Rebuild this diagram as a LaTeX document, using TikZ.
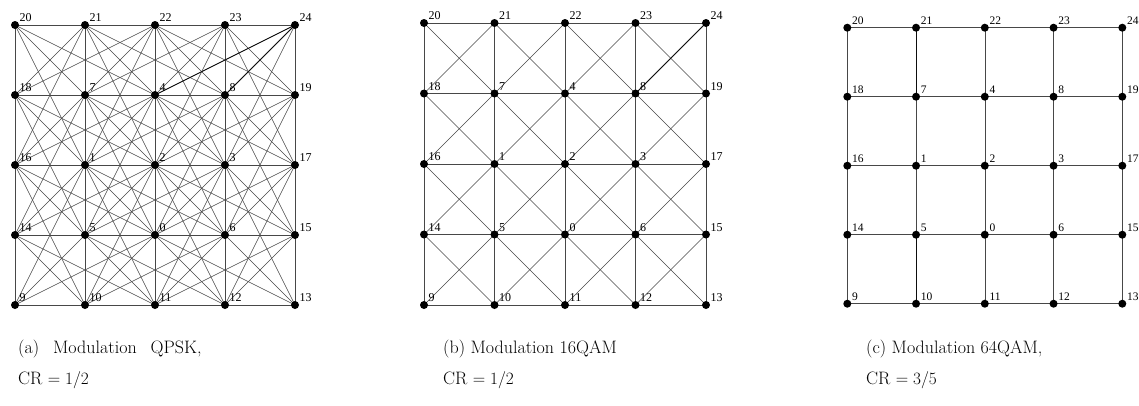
\documentclass[tikz,border=0pt]{standalone}
\usepackage{fontspec}
\newfontfamily\lblfont{Liberation Serif}
\usetikzlibrary{backgrounds}
\tikzset{
  dot/.style={circle,fill=black,inner sep=0pt,minimum size=8pt},
  edge/.style={draw=black!72,line width=0.6pt},
  darkedge/.style={draw=black!95,line width=0.75pt},
  lbl/.style={font=\lblfont\fontsize{12}{12}\selectfont,anchor=base west,inner sep=0pt},
  lblc/.style={font=\lblfont\fontsize{11.5}{12}\selectfont,anchor=base west,inner sep=0pt},
  captext/.style={font=\fontsize{18}{20}\selectfont,anchor=base west,inner sep=0pt}
}
\newcommand\mkgrid[6]{%
  \foreach \lab [count=\k from 0] in {20,21,22,23,24,18,7,4,8,19,16,1,2,3,17,14,5,0,6,15,9,10,11,12,13} {
    \pgfmathtruncatemacro\ci{mod(\k,5)}
    \pgfmathtruncatemacro\rj{div(\k,5)}
    \node[dot] (#1-\ci-\rj) at ({#2+\ci*#4},{#3+\rj*#5}) {};
    \node[#6] (#1l-\ci-\rj) at ({#2+\ci*#4+4.5},{#3+\rj*#5-3.3}) {\lab};
  }%
}
\begin{document}
\begin{tikzpicture}[x=1pt,y=-1pt]
\useasboundingbox (0,0) rectangle (1139,405);
% grids
\mkgrid{a}{15}{25}{70}{70}{lbl}
\mkgrid{b}{424}{23}{70.5}{70.5}{lbl}
\mkgrid{c}{847.3}{27.7}{68.75}{69}{lblc}
\begin{pgfonlayer}{background}
% (a): neighbours at distance^2 <= 5
\foreach \ci in {0,...,4} \foreach \rj in {0,...,4} \foreach \dx/\dy in {1/0,0/1,1/1,1/-1,2/1,2/-1,1/2,1/-2} {
  \pgfmathtruncatemacro\gx{\ci+\dx}
  \pgfmathtruncatemacro\gy{\rj+\dy}
  \ifnum\gx<5 \ifnum\gy>-1 \ifnum\gy<5
    \draw[edge] (a-\ci-\rj.center) -- (a-\gx-\gy.center);
  \fi\fi\fi
}
\draw[darkedge] (a-4-0.center) -- (a-2-1.center);
\draw[darkedge] (a-4-0.center) -- (a-3-1.center);
% (b): king moves
\foreach \ci in {0,...,4} \foreach \rj in {0,...,4} \foreach \dx/\dy in {1/0,0/1,1/1,1/-1} {
  \pgfmathtruncatemacro\gx{\ci+\dx}
  \pgfmathtruncatemacro\gy{\rj+\dy}
  \ifnum\gx<5 \ifnum\gy>-1 \ifnum\gy<5
    \draw[edge] (b-\ci-\rj.center) -- (b-\gx-\gy.center);
  \fi\fi\fi
}
\draw[darkedge] (b-4-0.center) -- (b-3-1.center);
% (c): grid
\foreach \ci in {0,...,4} \foreach \rj in {0,...,4} \foreach \dx/\dy in {1/0,0/1} {
  \pgfmathtruncatemacro\gx{\ci+\dx}
  \pgfmathtruncatemacro\gy{\rj+\dy}
  \ifnum\gx<5 \ifnum\gy<5
    \draw[edge] (c-\ci-\rj.center) -- (c-\gx-\gy.center);
  \fi\fi
}
\draw[darkedge] (c-1-0.center) -- (c-1-1.center);
\draw[darkedge] (c-1-3.center) -- (c-1-4.center);
\end{pgfonlayer}
% captions
\node[captext] (capa1) at (18,353) {(a)\hspace{14pt}Modulation\hspace{14pt}QPSK,};
\node[captext] (capa2) at (18,384) {CR $=1/2$};
\node[captext] (capb1) at (443,353) {(b) Modulation 16QAM};
\node[captext] (capb2) at (443,384) {CR $=1/2$};
\node[captext] (capc1) at (866,353) {(c) Modulation 64QAM,};
\node[captext] (capc2) at (866,384) {CR $=3/5$};
\end{tikzpicture}
\end{document}
